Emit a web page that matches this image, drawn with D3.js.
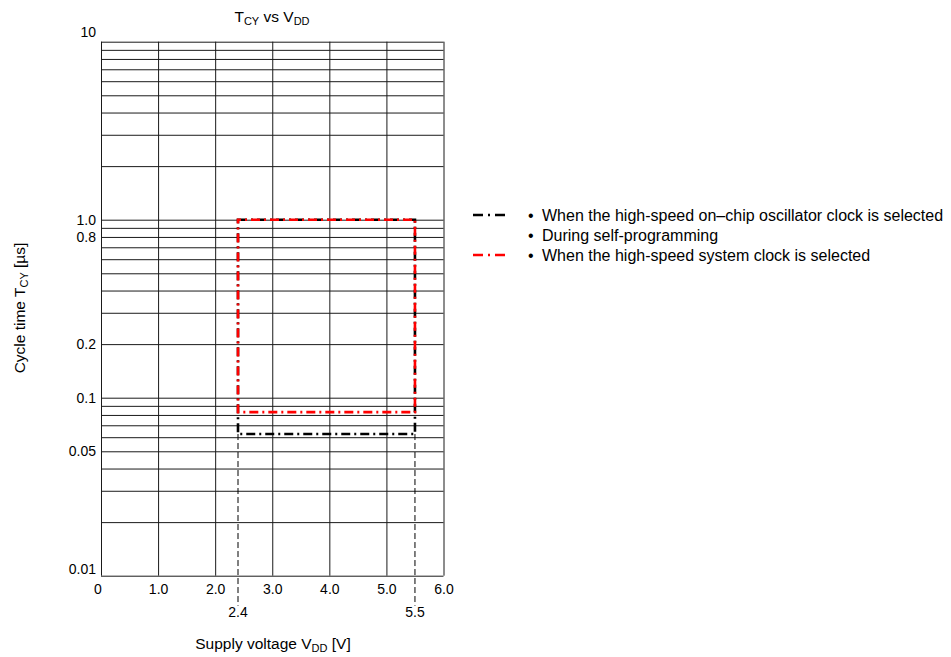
<!DOCTYPE html>
<html>
<head>
<meta charset="utf-8">
<script src="https://cdn.jsdelivr.net/npm/d3@7"></script>
<style>
  body { margin: 0; background: #fff; }
  text { font-family: "Liberation Sans", Arial, sans-serif; fill: #000; }
</style>
</head>
<body>
<div id="chart"></div>
<script>
// axis ticks
const xTickValues = [0, 1, 2, 3, 4, 5, 6];
const xTickLabels = ["0", "1.0", "2.0", "3.0", "4.0", "5.0", "6.0"];
const yTickValues = [10, 1, 0.8, 0.2, 0.1, 0.05, 0.01];
const yTickLabels = ["10", "1.0", "0.8", "0.2", "0.1", "0.05", "0.01"];
const gridDecades = [0.01, 0.1, 1];
const gridMantissas = [1, 2, 3, 4, 5, 6, 7, 8, 9];

// operating regions (VDD range, TCY range)
const regionVddMin = [2.4, 2.4];
const regionVddMax = [5.5, 5.5];
const regionTcyMin = [0.0625, 0.083];
const regionTcyMax = [1.0, 1.0];
const markerValues = [2.4, 5.5];
const markerLabels = ["2.4", "5.5"];

const legendTexts = [
  "When the high-speed on\u2013chip oscillator clock is selected",
  "During self-programming",
  "When the high-speed system clock is selected"
];
const legendSeries = [0, null, 1];

const regionColors = ["#000000", "#ff0000"];

const margin = { top: 41.7, left: 101 },
  width = 342.5,
  height = 534;

const svg = d3.select("#chart")
  .append("svg")
  .attr("width", 951)
  .attr("height", 657);

const g = svg.append("g")
  .attr("transform", `translate(${margin.left},${margin.top})`);

const x = d3.scaleLinear().domain([0, 6]).range([0, width]);
const y = d3.scaleLog().domain([0.01, 10]).range([height, 0]);

// grid
let gridValues = [];
gridDecades.forEach(d => gridMantissas.forEach(m => gridValues.push(d * m)));
gridValues.push(10);

g.append("g")
  .attr("class", "ygrid")
  .call(d3.axisLeft(y).tickValues(gridValues).tickSize(-width).tickFormat(""))
  .call(a => a.select(".domain").remove())
  .selectAll("line")
  .attr("stroke", "#1a1a1a")
  .attr("stroke-width", 1);

g.append("g")
  .attr("class", "xgrid")
  .attr("transform", `translate(0,${height})`)
  .call(d3.axisBottom(x).tickValues(xTickValues).tickSize(-height).tickFormat(""))
  .call(a => a.select(".domain").remove())
  .selectAll("line")
  .attr("stroke", "#1a1a1a")
  .attr("stroke-width", 1);

// tick labels
const yAxis = g.append("g")
  .call(d3.axisLeft(y).tickValues(yTickValues).tickSize(0).tickPadding(5)
    .tickFormat((d, i) => yTickLabels[i]))
  .call(a => a.select(".domain").remove());
yAxis.selectAll("text")
  .attr("font-size", 14)
  .attr("font-family", "Liberation Sans, Arial, sans-serif")
  .attr("dy", d => d === 10 ? "-0.4em" : d === 0.01 ? "-0.15em" : "0.32em");

const xAxis = g.append("g")
  .attr("transform", `translate(0,${height})`)
  .call(d3.axisBottom(x).tickValues(xTickValues).tickSize(0).tickPadding(8)
    .tickFormat((d, i) => xTickLabels[i]))
  .call(a => a.select(".domain").remove());
xAxis.selectAll("text")
  .attr("font-size", 14)
  .attr("font-family", "Liberation Sans, Arial, sans-serif")
  .attr("dx", d => d === 0 ? "-0.25em" : 0);

// thin dashed markers down to the VDD labels
g.selectAll(".marker")
  .data(markerValues)
  .enter()
  .append("line")
  .attr("class", "marker")
  .attr("x1", d => x(d))
  .attr("x2", d => x(d))
  .attr("y1", y(d3.min(regionTcyMin)))
  .attr("y2", height + 30)
  .attr("stroke", "#000")
  .attr("stroke-width", 1)
  .attr("stroke-dasharray", "6,3");

g.selectAll(".markerLabel")
  .data(markerValues)
  .enter()
  .append("text")
  .attr("class", "markerLabel")
  .attr("x", d => x(d))
  .attr("y", height + 41)
  .attr("text-anchor", "middle")
  .attr("font-size", 14)
  .text((d, i) => markerLabels[i]);

// regions
const regionIdx = regionVddMin.map((d, i) => i);
g.selectAll(".region")
  .data(regionIdx)
  .enter()
  .append("path")
  .attr("class", "region")
  .attr("d", i => {
    const x0 = x(regionVddMin[i]), x1 = x(regionVddMax[i]);
    const y0 = y(regionTcyMax[i]), y1 = y(regionTcyMin[i]);
    return `M${x0},${y0}H${x1}V${y1}H${x0}Z`;
  })
  .attr("fill", "none")
  .attr("stroke", i => regionColors[i])
  .attr("stroke-width", 2.6)
  .attr("stroke-dasharray", "9,4,2,4")
  .attr("stroke-dashoffset", i => i * 6);

// title
const title = svg.append("text")
  .attr("x", 272)
  .attr("y", 22)
  .attr("text-anchor", "middle")
  .attr("font-size", 15.5);
title.append("tspan").text("T");
title.append("tspan").attr("font-size", 11).attr("dy", 3).text("CY");
title.append("tspan").attr("dy", -3).text(" vs V");
title.append("tspan").attr("font-size", 11).attr("dy", 3).text("DD");

// x label
const xl = svg.append("text")
  .attr("x", 273)
  .attr("y", 649)
  .attr("text-anchor", "middle")
  .attr("font-size", 15.5);
xl.append("tspan").text("Supply voltage V");
xl.append("tspan").attr("font-size", 11).attr("dy", 3).text("DD");
xl.append("tspan").attr("dy", -3).text(" [V]");

// y label
const yl = svg.append("text")
  .attr("transform", "translate(25,308) rotate(-90)")
  .attr("text-anchor", "middle")
  .attr("font-size", 15.5);
yl.append("tspan").text("Cycle time T");
yl.append("tspan").attr("font-size", 11).attr("dy", 3).text("CY");
yl.append("tspan").attr("dy", -3).text(" [\u00b5s]");

// legend
const legend = svg.append("g").attr("transform", "translate(473,215)");
legendTexts.forEach((t, i) => {
  const row = legend.append("g").attr("transform", `translate(0,${i * 20})`);
  if (legendSeries[i] !== null) {
    row.append("line")
      .attr("x1", 0).attr("x2", 34)
      .attr("y1", 0).attr("y2", 0)
      .attr("stroke", regionColors[legendSeries[i]])
      .attr("stroke-width", 2.6)
      .attr("stroke-dasharray", "10,5,2,5");
  }
  row.append("text")
    .attr("x", 55)
    .attr("y", 5.5)
    .attr("font-size", 16)
    .text("\u2022");
  row.append("text")
    .attr("x", 69)
    .attr("y", 5.5)
    .attr("font-size", 16)
    .text(t);
});
</script>
</body>
</html>
